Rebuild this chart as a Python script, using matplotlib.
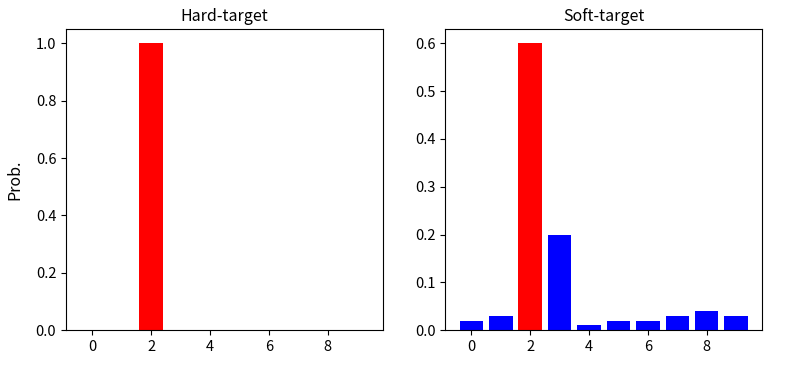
import matplotlib
matplotlib.use("Agg")
import matplotlib.pyplot as plt

plt.rcParams['font.family'] = ['Noto Sans CJK SC', 'DejaVu Sans']

classes = list(range(10))
hard = [0, 0, 1.0, 0, 0, 0, 0, 0, 0, 0]
soft = [0.02, 0.03, 0.6, 0.2, 0.01, 0.02, 0.02, 0.03, 0.04, 0.03]
target = 2

fig = plt.figure(figsize=(8.05, 3.76), dpi=100)
ax1 = fig.add_axes([0.082, 0.122, 0.394, 0.801])
ax2 = fig.add_axes([0.553, 0.122, 0.394, 0.801])

cols = ['red' if c == target else 'blue' for c in classes]

ax1.bar(classes, hard, color=cols)
ax1.set_title("Hard-target", fontsize=11.5)
ax1.set_ylabel("Prob.", fontsize=11.5, labelpad=9)

ax2.bar(classes, soft, color=cols)
ax2.set_title("Soft-target", fontsize=11.5)

for ax in (ax1, ax2):
    ax.set_xticks([0, 2, 4, 6, 8])
    ax.tick_params(labelsize=10.5)

fig.savefig("out.png", dpi=100)
